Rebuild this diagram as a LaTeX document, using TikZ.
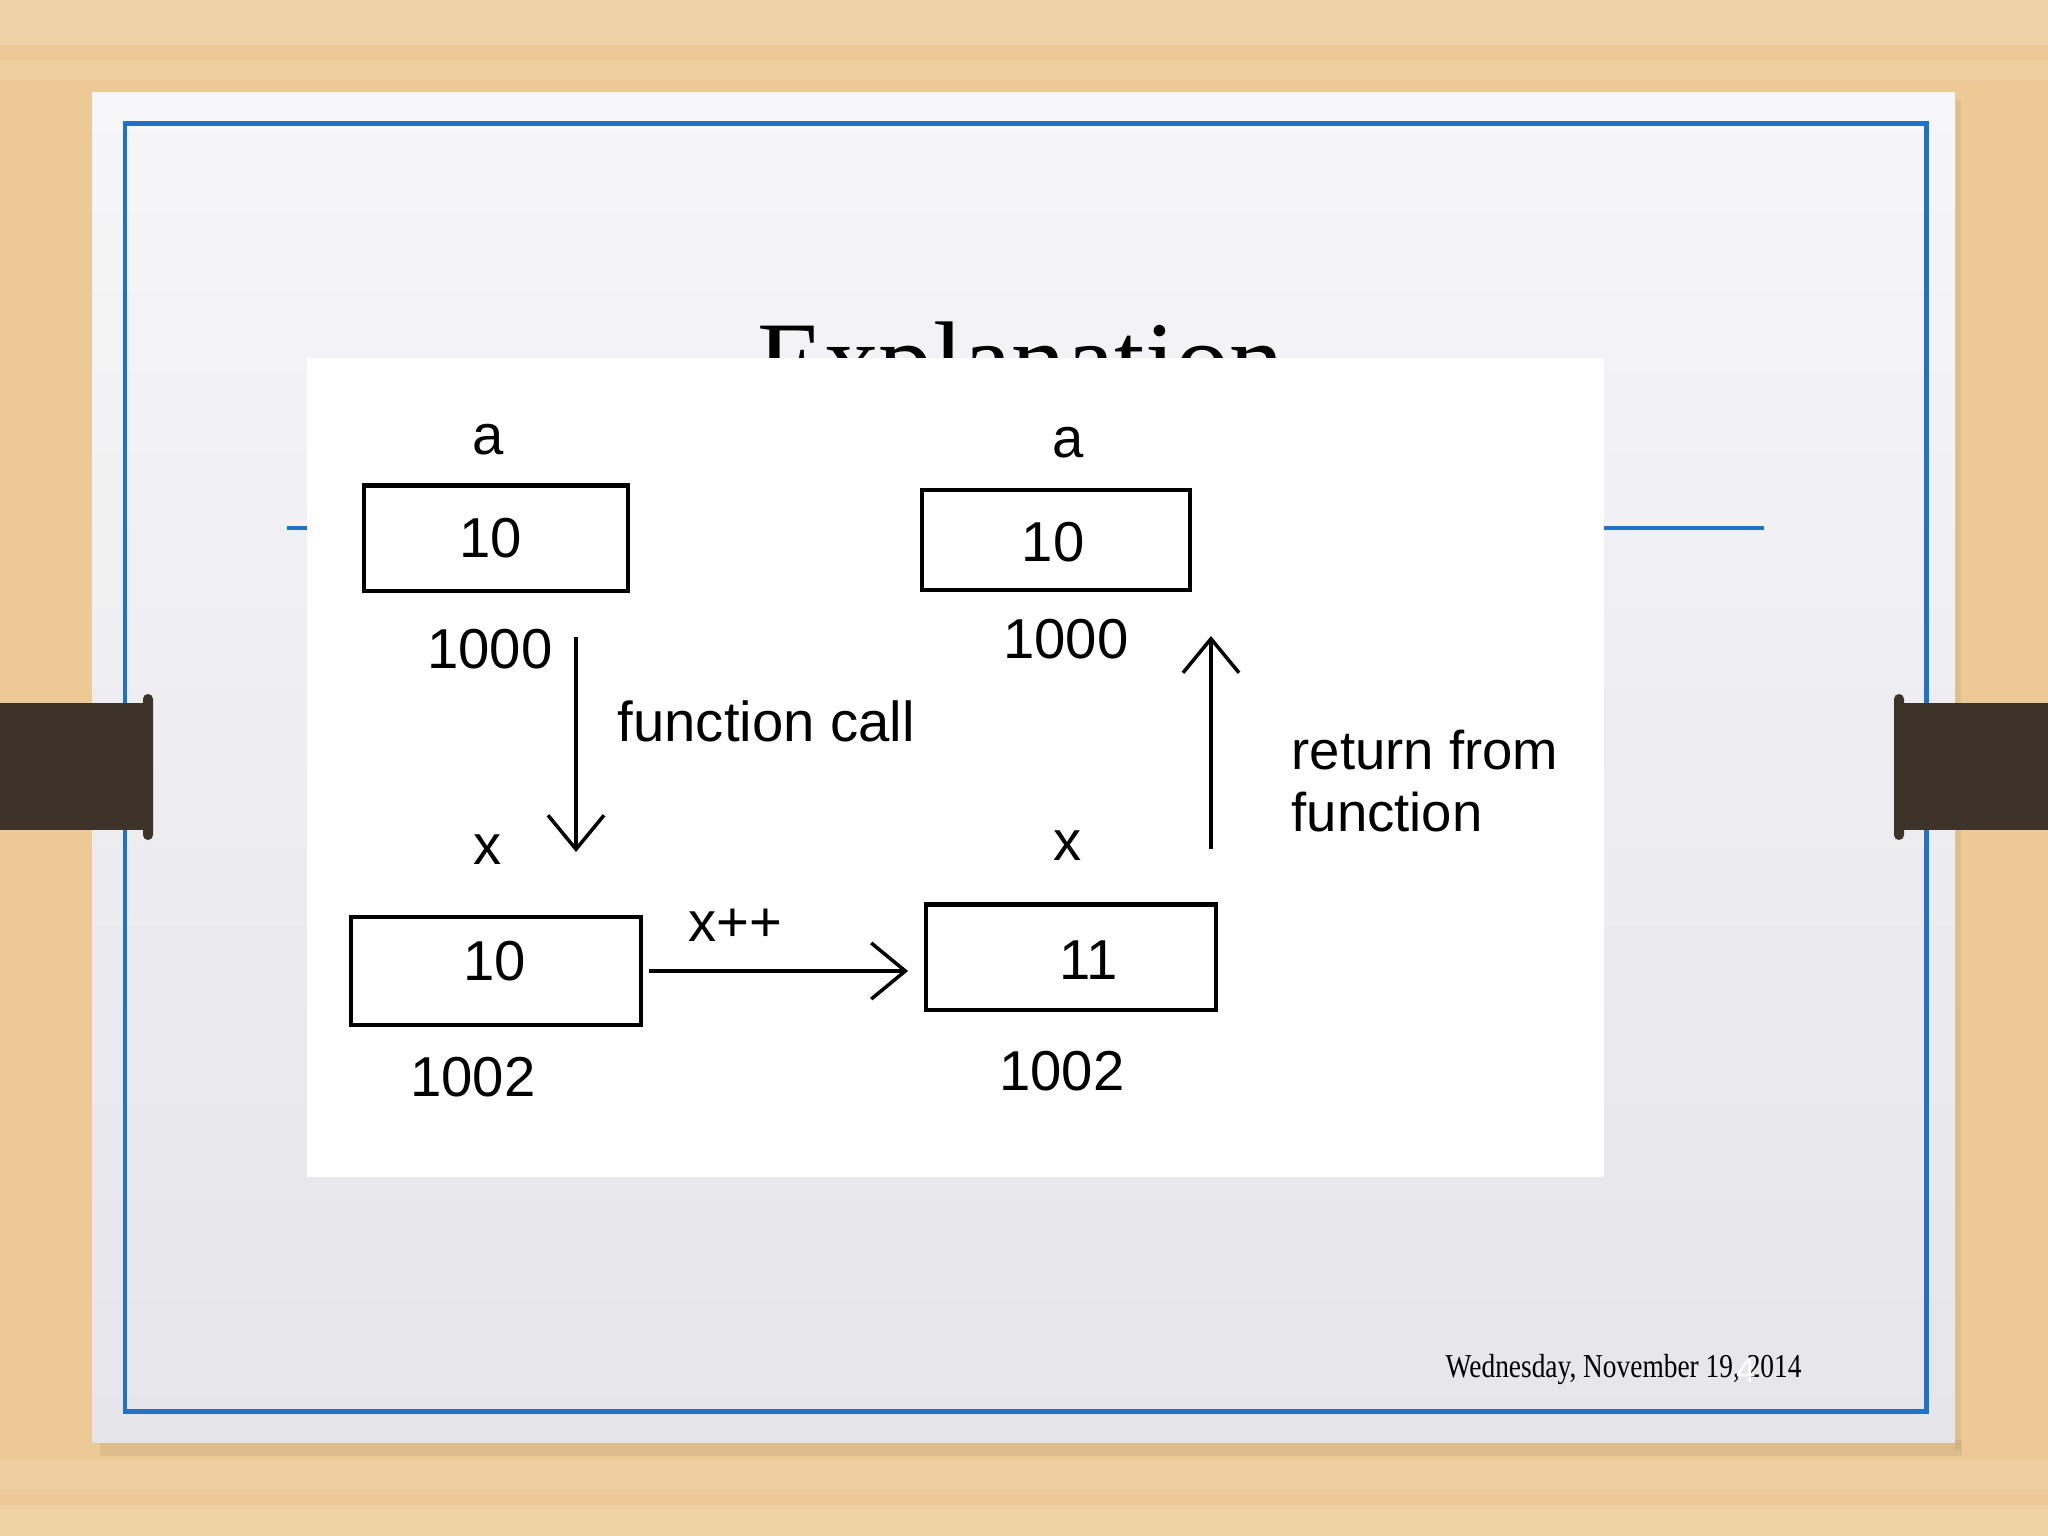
\documentclass[tikz,border=0pt]{standalone}
\usepackage{fontspec}
\usepackage{graphicx}
\setmainfont{Liberation Serif}
\newfontfamily\pixfont{Liberation Sans}
\usetikzlibrary{arrows.meta,calc}
\definecolor{wood}{RGB}{236,201,149}
\definecolor{slidetop}{RGB}{246,246,248}
\definecolor{slidebot}{RGB}{229,229,234}
\definecolor{pptblue}{RGB}{30,114,200}
\definecolor{clipbrown}{RGB}{61,51,40}
\newcommand{\pix}{\pixfont\fontsize{16}{19}\selectfont}
% binder clip: #1 = bar from, #2 = bar to, #3 = knob x
\newcommand{\binderclip}[3]{
\fill[clipbrown] (#1,703) rectangle (#2,830);
\fill[clipbrown, rounded corners=1.4pt] ($(#3,694)$) rectangle ($(#3+10,840)$);
}
% grain band: #1 = top, #2 = bottom, #3 = opacity
\newcommand{\grain}[3]{
\fill[white, opacity=#3] (0,#1) rectangle (2048,#2);
}
\tikzset{
  cell/.style={draw, line width=1.15pt, inner sep=0pt},
  lbl/.style={inner sep=0pt, font=\pix},
  flow/.style={line width=1pt, -{Straight Barb[length=0.34cm,width=0.56cm]}},
}

\begin{document}
\begin{tikzpicture}[x=0.01cm, y=-0.01cm]
\useasboundingbox (0,0) rectangle (2048,1536);

% desk and slide
\fill[wood] (0,0) rectangle (2048,1536);
\grain{0}{45}{0.18}
\grain{60}{80}{0.10}
\grain{1460}{1490}{0.12}
\grain{1505}{1536}{0.15}
\fill[black, opacity=0.06] (100,1440) rectangle (1962,1456);
\fill[black, opacity=0.05] (1955,100) rectangle (1961,1450);
\shade[top color=slidetop, bottom color=slidebot] (92,92) rectangle (1955,1442);
\draw[pptblue, line width=1.42pt] (125,123) rectangle (1926,1411);

% title and footer
\node[anchor=base, inner sep=0pt, font=\fontsize{31}{36}\selectfont] (title) at (1021,397) {Explanation};
\draw[pptblue, line width=1.1pt] (287,528) -- (1764,528);
\node[anchor=base west, inner sep=0pt] (date) at (1445,1377)
  {\fontsize{9.5}{11}\selectfont\scalebox{0.82}[1]{Wednesday, November 19, 2014}};
\node[text=white, inner sep=0pt, font=\pixfont\fontsize{10}{12}\selectfont] (slideno) at (1746,1370) {4};

% pasted picture
\fill[white] (307,358) rectangle (1604,1177);

% before the call
\node[lbl] (a1) at (488,440) {a};
\node[cell, minimum width=2.64cm, minimum height=1.05cm] (cellA1) at (496,538) {};
\node[lbl] (valA1) at (491,538) {10};
\node[lbl] (addrA1) at (490,649) {1000};

% inside the function
\node[lbl] (x1) at (488,850) {x};
\node[cell, minimum width=2.89cm, minimum height=1.08cm] (cellX1) at (496,971) {};
\node[lbl] (valX1) at (495,961) {10};
\node[lbl] (addrX1) at (473,1077) {1002};

% after x++
\node[lbl] (x2) at (1068,846) {x};
\node[cell, minimum width=2.90cm, minimum height=1.05cm] (cellX2) at (1071,957) {};
\node[lbl] (valX2) at (1089,960) {11};
\node[lbl] (addrX2) at (1062,1071) {1002};

% after return
\node[lbl] (a2) at (1068,443) {a};
\node[cell, minimum width=2.68cm, minimum height=1.00cm] (cellA2) at (1056,540) {};
\node[lbl] (valA2) at (1053,542) {10};
\node[lbl] (addrA2) at (1066,639) {1000};

% arrows
\coordinate (callfrom) at (576,637);
\coordinate (callto) at (576,852);
\draw[flow] (callfrom) -- (callto);
\node[lbl, anchor=west] (calltxt) at (617,721) {function call};

\draw[flow, shorten <=1.7pt, shorten >=4.5pt] (cellX1.east) -- (cellX1.east -| cellX2.west);
\node[lbl] (inctxt) at (735,925) {x++};

\coordinate (retfrom) at (1211,849);
\coordinate (retto) at (1211,636);
\draw[flow] (retfrom) -- (retto);
\node[lbl, anchor=north west, align=left, font=\pixfont\fontsize{15.5}{17.6}\selectfont] (rettxt) at (1291,729) {return from\\function};

% binder clips
\binderclip{0}{150}{143}
\binderclip{1897}{2048}{1894}
\end{tikzpicture}
\end{document}
